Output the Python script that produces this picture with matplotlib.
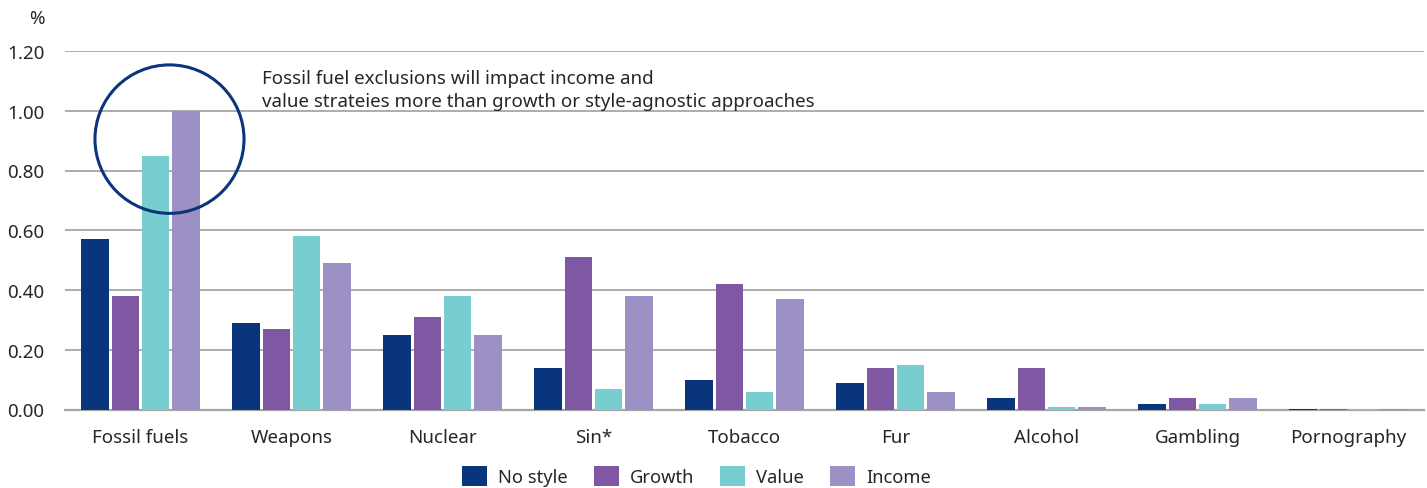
import numpy as np
import matplotlib.pyplot as plt
from matplotlib.patches import Ellipse

plt.rcParams['font.family'] = ['Noto Sans', 'DejaVu Sans']

categories = ['Fossil fuels', 'Weapons', 'Nuclear', 'Sin*', 'Tobacco', 'Fur',
              'Alcohol', 'Gambling', 'Pornography']
no_style = [0.57, 0.29, 0.25, 0.14, 0.10, 0.09, 0.04, 0.02, 0.003]
growth = [0.38, 0.27, 0.31, 0.51, 0.42, 0.14, 0.14, 0.04, 0.003]
value = [0.85, 0.58, 0.38, 0.07, 0.06, 0.15, 0.01, 0.02, 0.003]
income = [1.00, 0.49, 0.25, 0.38, 0.37, 0.06, 0.01, 0.04, 0.003]
series_names = ['No style', 'Growth', 'Value', 'Income']
colors = ['#0a347b', '#7f57a3', '#78cdd0', '#9d90c5']

fs = 13.5

fig = plt.figure(figsize=(14.27, 4.89), dpi=100)
ax = fig.add_axes([65/1427, 78.5/489, 1359/1427, 358.5/489])

x = np.arange(len(categories))
step = 0.199
width = 0.185
for i, (vals, name, c) in enumerate(zip([no_style, growth, value, income], series_names, colors)):
    ax.bar(x + (i - 1.5) * step, vals, width, color=c, label=name, zorder=3)

ax.set_xlim(-0.5, len(categories) - 0.5)
ax.set_ylim(0, 1.2)
yt = np.arange(0, 1.21, 0.2)
ax.set_yticks(yt)
ax.set_yticklabels(['%.2f' % v for v in yt])
ax.set_xticks(x)
ax.set_xticklabels(categories)
ax.grid(axis='y', color='#a6a6a6', linewidth=1.3, zorder=0)
for s in ['top', 'right', 'left']:
    ax.spines[s].set_visible(False)
ax.spines['bottom'].set_color('#a6a6a6')
ax.spines['bottom'].set_linewidth(1.6)
ax.tick_params(axis='both', length=0, labelsize=fs, colors='#262626')
ax.tick_params(axis='y', pad=15)
ax.tick_params(axis='x', pad=13)

# highlight ring around the fossil fuel bars
ring = Ellipse((0.192, 0.905), 0.987, 0.497, fill=False, edgecolor='#0a347b',
               linewidth=2.2, zorder=4, clip_on=False)
ax.add_patch(ring)
ax.text(0.806, 1.14, 'Fossil fuel exclusions will impact income and\n'
        'value strateies more than growth or style-agnostic approaches',
        fontsize=fs, color='#262626', va='top', ha='left', linespacing=1.33)

fig.text(37/1427, 1 - 19/489, '%', fontsize=fs, color='#262626', ha='center', va='center')

fig.legend(loc='center', bbox_to_anchor=(0.488, 1 - 477/489), ncol=4, frameon=False,
           fontsize=13.2, handlelength=1.36, handleheight=1.36, columnspacing=1.4,
           handletextpad=0.62, labelcolor='#262626')

fig.savefig('out.png', dpi=100)
